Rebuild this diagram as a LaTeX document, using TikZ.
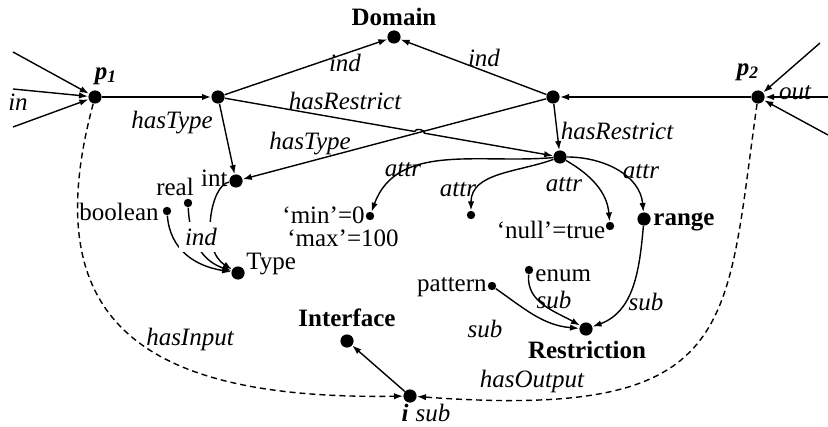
\documentclass[tikz,border=0pt]{standalone}
\usepackage{fontspec}
\setmainfont{Liberation Serif}
\usetikzlibrary{arrows.meta,intersections,calc}

\begin{document}
\begin{tikzpicture}[x=0.5pt,y=-0.5pt,
  big/.style={circle,fill=black,inner sep=0pt,minimum size=6.6pt},
  small/.style={circle,fill=black,inner sep=0pt,minimum size=4.2pt},
  lbl/.style={font=\fontsize{12.5}{14}\selectfont\itshape,inner sep=1pt},
  txt/.style={font=\fontsize{12.5}{14}\selectfont,inner sep=1pt},
  btxt/.style={font=\fontsize{12.5}{14}\selectfont\bfseries,inner sep=1pt},
  bilbl/.style={font=\fontsize{12.5}{14}\selectfont\bfseries\itshape,inner sep=1pt},
  link/.style={line width=0.7pt,-{Latex[length=4.5pt,width=3.2pt]}},
  dlink/.style={link,dash pattern=on 3pt off 2pt},
]
\useasboundingbox (0,0) rectangle (828,427);

% vertices
\node[big] (p1) at (95,97) {};
\node[big] (A) at (218,97) {};
\node[big] (dom) at (394,37) {};
\node[big] (B) at (553,97) {};
\node[big] (p2) at (758,97) {};
\node[big] (R) at (560,157) {};
\node[big] (int) at (236,181) {};
\node[big] (type) at (238,273) {};
\node[small] (real) at (188,203) {};
\node[small] (bool) at (167,211) {};
\node[small] (min) at (370,216) {};
\node[small] (max) at (471,215) {};
\node[small] (null) at (610,226) {};
\node[big] (range) at (644,219) {};
\node[small] (enum) at (529,270) {};
\node[small] (pat) at (492,286) {};
\node[big] (rest) at (586,329) {};
\node[big] (iface) at (347,341) {};
\node[big] (i) at (410,396) {};

% vertex texts
\node[btxt] (domT) at (394,17) {Domain};
\node[bilbl] (p1T) at (106,76) {p\textsubscript{1}};
\node[bilbl] (p2T) at (748,72) {p\textsubscript{2}};
\node[txt,anchor=east] (intT) at (230,178) {int};
\node[txt] (realT) at (175,187) {real};
\node[txt,anchor=east] (boolT) at (161,212) {boolean};
\node[txt,anchor=west] (typeT) at (244,264) {Type};
\node[txt,anchor=east] (minT) at (367,215) {‘min’=0};
\node[txt] (maxT) at (343,238) {‘max’=100};
\node[txt] (nullT) at (551,230) {‘null’=true};
\node[btxt,anchor=west] (rangeT) at (651,222) {range};
\node[txt,anchor=west] (enumT) at (533,276) {enum};
\node[txt,anchor=east] (patT) at (489,287) {pattern};
\node[btxt] (restT) at (587,350) {Restriction};
\node[btxt] (ifaceT) at (347,318) {Interface};
\node[bilbl] (iT) at (405,413) {i};

% free ends of the port edges
\coordinate (in1) at (13,52);
\coordinate (in2) at (13,89);
\coordinate (in3) at (13,127);
\coordinate (o1) at (820,43);
\coordinate (o2) at (828,97);
\coordinate (o3) at (828,135);

\draw[link] (in1) -- (p1);
\draw[link] (in2) -- (p1);
\draw[link] (in3) -- (p1);
\draw[link] (o1) -- (p2);
\draw[link] (o2) -- (p2);
\draw[link] (o3) -- (p2);

% upper structure
\draw[link] (p1) -- (A);
\draw[link] (A) -- (dom);
\draw[link] (B) -- (dom);
\draw[link] (p2) -- (B);
\draw[link] (A) -- (int);
\draw[link] (B) -- (R);
\draw[link,name path=bt] (B) -- (int);
\path[name path=ar] (A) -- (R);
\path[name intersections={of=bt and ar,by=X}];
\draw[link] (A) -- ($(X)!2.5pt!(A)$) to[bend left=90] ($(X)!2.5pt!(R)$) -- (R);

% attributes
\draw[link] (R) to[out=185,in=70] (min);
\draw[link] (R) to[out=200,in=90] (max);
\draw[link] (R) to[out=-30,in=95] (null);
\draw[link] (R) to[out=0,in=95] (range);

% restriction kinds
\draw[link] (range) to[out=-95,in=20] (rest);
\draw[link] (enum) to[out=-95,in=150] (rest);
\draw[link] (pat) to[out=-35,in=175] (rest);

% types
\draw[link] (bool) .. controls (170,250) and (195,266) .. (type);
\draw[link] (real) .. controls (190,245) and (205,262) .. (type);
\draw[link] (int) .. controls (210,185) and (200,250) .. (type);

% interface
\draw[link] (i) -- (iface);
\draw[dlink] (p1) .. controls (35,320) and (140,400) .. (i);
\draw[dlink] (p2) .. controls (725,330) and (740,420) .. (i);

% edge labels
\node[lbl] (inL) at (18,102) {in};
\node[lbl] (outL) at (795,93) {out};
\node[lbl] (ht1) at (172,123) {hasType};
\node[lbl] (ind1) at (345,63) {ind};
\node[lbl] (ind2) at (484,58) {ind};
\node[lbl] (hr1) at (345,101) {hasRestrict};
\node[lbl] (ht2) at (310,144) {hasType};
\node[lbl] (hr2) at (617,131) {hasRestrict};
\node[lbl,fill=white,inner sep=3pt] (ind3) at (201,237) {ind};
\node[lbl] (at1) at (403,170) {attr};
\node[lbl] (at2) at (458,190) {attr};
\node[lbl] (at3) at (564,185) {attr};
\node[lbl] (at4) at (641,172) {attr};
\node[lbl] (sb1) at (554,300) {sub};
\node[lbl] (sb2) at (646,302) {sub};
\node[lbl] (sb3) at (485,329) {sub};
\node[lbl] (hin) at (190,339) {hasInput};
\node[lbl] (hout) at (532,381) {hasOutput};
\node[lbl] (sb4) at (433,413) {sub};
\end{tikzpicture}
\end{document}
